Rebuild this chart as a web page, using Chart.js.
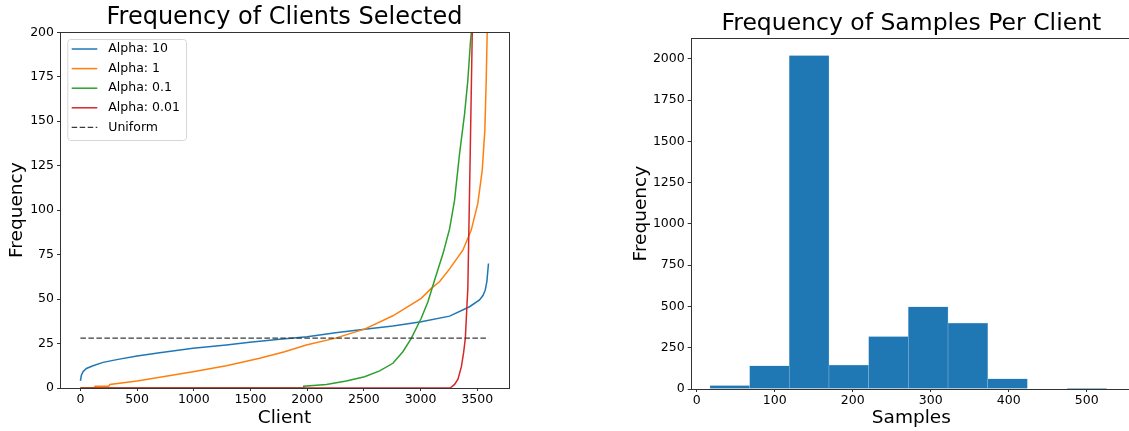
<!DOCTYPE html>
<html>
<head>
<meta charset="utf-8">
<script src="https://cdn.jsdelivr.net/npm/chart.js@4.4.1/dist/chart.umd.min.js"></script>
<style>
  html, body { margin: 0; padding: 0; background: #fff; overflow: hidden; }
  body { width: 1129px; height: 431px; position: relative; }
  #clientsChart { position: absolute; left: 0; top: 0; }
  #samplesChart { position: absolute; left: 600px; top: 0; }
</style>
</head>
<body>
<canvas id="clientsChart" width="520" height="431"></canvas>
<canvas id="samplesChart" width="540" height="431"></canvas>
<script>
// Courbes triées : fréquence de sélection par client
const alpha10X = [0, 8, 23, 53, 111, 200, 332, 500, 699, 993, 1287, 1493, 1757, 2000, 2250, 2506, 2756, 3006, 3256, 3432, 3520, 3550, 3570, 3585, 3599];
const alpha10Y = [4, 7, 9.2, 11, 12.5, 14.4, 16.1, 18, 19.8, 22.3, 24.2, 25.7, 27.4, 28.8, 31, 33.1, 34.8, 37.2, 40.4, 45.7, 49.5, 52, 55, 60, 70];

const alpha1X = [0, 120, 130, 250, 260, 500, 993, 1287, 1581, 1801, 1992, 2242, 2506, 2756, 3006, 3094, 3167, 3256, 3373, 3447, 3505, 3544, 3567, 3579, 3588, 3599];
const alpha1Y = [0, 0, 1, 1, 2, 3.9, 9.2, 12.5, 16.7, 20.4, 24.2, 27.9, 33.1, 40.6, 50.4, 56, 59.7, 67, 77.5, 88.8, 103.8, 122.5, 145, 173, 201, 240];

const alpha01X = [0, 1965, 1970, 2169, 2345, 2506, 2639, 2756, 2844, 2918, 3006, 3065, 3124, 3200, 3256, 3300, 3344, 3388, 3417, 3441, 3452, 3470, 3599];
const alpha01Y = [0, 0, 1, 2, 3.9, 6.3, 9.6, 13.9, 20.4, 27.9, 39.2, 48.5, 60.7, 76, 89.5, 105.6, 131.8, 154, 173, 195.5, 202, 230, 500];

const alpha001X = [0, 3262, 3300, 3330, 3360, 3380, 3395, 3408, 3417, 3438, 3456, 3470, 3599];
const alpha001Y = [0, 0, 2, 5, 12, 20, 28, 45, 56, 132, 200, 260, 1000];

const uniformX = [0, 3599];
const uniformY = [28, 28];

const clientTicks = [0, 500, 1000, 1500, 2000, 2500, 3000, 3500];
const freqTicks = [0, 25, 50, 75, 100, 125, 150, 175, 200];

// Histogramme : nombre d'échantillons par client
const sampleBinEdges = [17, 67.9, 118.7, 169.6, 220.4, 271.3, 322.2, 373.0, 423.9, 474.7, 525.6];
const sampleCounts = [20, 141, 2020, 145, 317, 497, 400, 61, 0, 4];
const sampleTicks = [0, 100, 200, 300, 400, 500];
const countTicks = [0, 250, 500, 750, 1000, 1250, 1500, 1750, 2000];

const FONT = 'DejaVu Sans';
Chart.defaults.font.family = FONT;
Chart.defaults.color = '#000';

const toPoints = (xs, ys) => xs.map((x, i) => ({ x: x, y: ys[i] }));
const fixedTicks = list => scale => { scale.ticks = list.map(v => ({ value: v })); };
const plainLabel = v => String(v); // pas de séparateur de milliers

// Cadre complet autour de la zone de tracé (4 côtés comme matplotlib)
const framePlugin = {
  id: 'frame',
  afterDatasetsDraw(chart) {
    const { ctx, chartArea: a } = chart;
    ctx.save();
    ctx.strokeStyle = '#333';
    ctx.lineWidth = 1;
    const l = Math.round(a.left) + 0.5, t = Math.round(a.top) + 0.5;
    const r = Math.round(a.right) + 0.5, b = Math.round(a.bottom) + 0.5;
    ctx.strokeRect(l, t, r - l, b - t);
    ctx.restore();
  }
};

// Légende dans le coin haut gauche, avec cadre arrondi
const legendBoxPlugin = {
  id: 'legendBox',
  afterDatasetsDraw(chart) {
    const { ctx, chartArea: a } = chart;
    const x0 = a.left + 7.3, y0 = a.top + 6.7, w = 118.7, h = 101;
    ctx.save();
    ctx.beginPath();
    ctx.roundRect(x0 + 0.5, y0 + 0.5, w, h, 3);
    ctx.fillStyle = 'rgba(255,255,255,0.8)';
    ctx.fill();
    ctx.strokeStyle = '#d6d6d6';
    ctx.lineWidth = 1;
    ctx.stroke();
    ctx.font = '12.5px "' + FONT + '"';
    ctx.textBaseline = 'middle';
    chart.data.datasets.forEach((ds, i) => {
      const cy = y0 + 10 + i * 19.6;
      ctx.strokeStyle = ds.borderColor;
      ctx.lineWidth = ds.borderWidth || 1.5;
      ctx.setLineDash(ds.borderDash || []);
      ctx.beginPath();
      ctx.moveTo(x0 + 4.4, cy);
      ctx.lineTo(x0 + 30, cy);
      ctx.stroke();
      ctx.setLineDash([]);
      ctx.fillStyle = '#000';
      ctx.fillText(ds.label, x0 + 41, cy);
    });
    ctx.restore();
  }
};

const tickFont = { size: 12.5 };
const axisGrid = { drawOnChartArea: false, drawTicks: true, tickLength: 3, color: '#333', offset: false };

// Graphique 1 - Fréquence des clients sélectionnés
new Chart(document.getElementById('clientsChart'), {
  type: 'line',
  data: {
    datasets: [
      { label: 'Alpha: 10', data: toPoints(alpha10X, alpha10Y), borderColor: '#1f77b4', order: 5 },
      { label: 'Alpha: 1', data: toPoints(alpha1X, alpha1Y), borderColor: '#ff7f0e', order: 4 },
      { label: 'Alpha: 0.1', data: toPoints(alpha01X, alpha01Y), borderColor: '#2ca02c', order: 3 },
      { label: 'Alpha: 0.01', data: toPoints(alpha001X, alpha001Y), borderColor: '#d62728', order: 2 },
      { label: 'Uniform', data: toPoints(uniformX, uniformY), borderColor: '#3a3a3a', borderDash: [5.5, 2.5], borderWidth: 1.2, order: 1 }
    ]
  },
  options: {
    responsive: false,
    animation: false,
    layout: { padding: { left: 0, right: 11, top: 0, bottom: 0 } },
    elements: { point: { radius: 0 }, line: { borderWidth: 1.5, tension: 0 } },
    plugins: {
      legend: { display: false },
      tooltip: { enabled: false },
      title: {
        display: true, fullSize: false, text: 'Frequency of Clients Selected', color: '#000',
        font: { size: 24, weight: 'normal' }, padding: { top: 3.5, bottom: 0 }
      }
    },
    scales: {
      x: {
        type: 'linear', min: -180, max: 3780,
        afterBuildTicks: fixedTicks(clientTicks),
        afterFit: s => { s.height = 43; },
        ticks: { font: tickFont, color: '#000', padding: 1.5, maxRotation: 0, autoSkip: false, callback: plainLabel },
        grid: axisGrid,
        border: { display: false },
        title: { display: true, text: 'Client', color: '#000', font: { size: 18.5 }, padding: { top: 0, bottom: 1.3 } }
      },
      y: {
        min: 0, max: 200,
        afterBuildTicks: fixedTicks(freqTicks),
        afterFit: s => { s.width = 60; },
        ticks: { font: tickFont, color: '#000', padding: 3, callback: plainLabel },
        grid: axisGrid,
        border: { display: false },
        title: { display: true, text: 'Frequency', color: '#000', font: { size: 18.5 }, padding: { top: 6, bottom: 0 } }
      }
    }
  },
  plugins: [framePlugin, legendBoxPlugin]
});

// Graphique 2 - Histogramme des échantillons par client
const binCenters = sampleCounts.map((c, i) => (sampleBinEdges[i] + sampleBinEdges[i + 1]) / 2);

new Chart(document.getElementById('samplesChart'), {
  type: 'bar',
  data: {
    datasets: [{
      label: 'Samples',
      data: toPoints(binCenters, sampleCounts),
      backgroundColor: '#1f77b4',
      borderColor: '#9fc3e0',
      borderWidth: 0.5,
      borderSkipped: 'bottom',
      barPercentage: 1,
      categoryPercentage: 1
    }]
  },
  options: {
    responsive: false,
    animation: false,
    layout: { padding: { left: 0, right: 8, top: 0, bottom: 0 } },
    plugins: {
      legend: { display: false },
      tooltip: { enabled: false },
      title: {
        display: true, fullSize: false, text: 'Frequency of Samples Per Client', color: '#000',
        font: { size: 23.5, weight: 'normal' }, padding: { top: 10, bottom: 0 }
      }
    },
    scales: {
      x: {
        type: 'linear', min: -7.7, max: 558, offset: false,
        afterBuildTicks: fixedTicks(sampleTicks),
        afterFit: s => { s.height = 42; },
        ticks: { font: tickFont, color: '#000', padding: 1.5, maxRotation: 0, autoSkip: false, callback: plainLabel },
        grid: axisGrid,
        border: { display: false },
        title: { display: true, text: 'Samples', color: '#000', font: { size: 18.5 }, padding: { top: 0, bottom: 1.3 } }
      },
      y: {
        min: 0, max: 2125,
        afterBuildTicks: fixedTicks(countTicks),
        afterFit: s => { s.width = 90.7; },
        ticks: { font: tickFont, color: '#000', padding: 3, callback: plainLabel },
        grid: axisGrid,
        border: { display: false },
        title: { display: true, text: 'Frequency', color: '#000', font: { size: 18.5 }, padding: { top: 29.6, bottom: 0 } }
      }
    }
  },
  plugins: [framePlugin]
});
</script>
</body>
</html>
